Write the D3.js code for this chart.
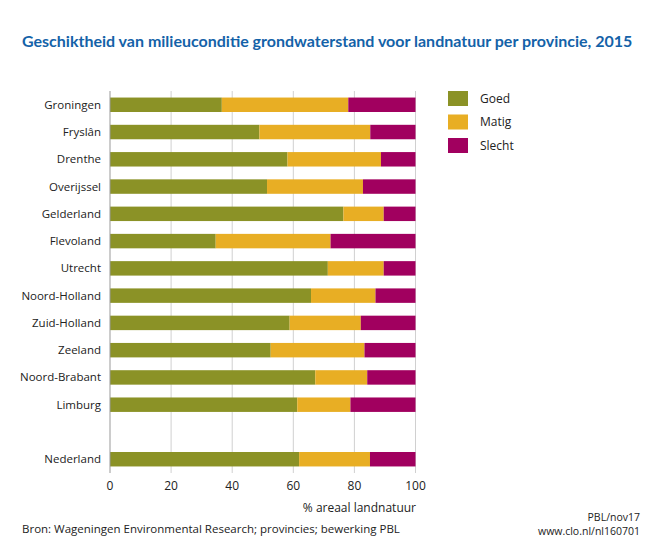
<!DOCTYPE html>
<html><head><meta charset="utf-8">
<script src="https://cdn.jsdelivr.net/npm/d3@7"></script>
<style>body{margin:0;background:#fff}svg{display:block}text{font-family:"Open Sans",sans-serif}</style>
</head><body><svg id="c" width="660" height="542"></svg>
<script>
const categories = ["Groningen","Fryslân","Drenthe","Overijssel","Gelderland","Flevoland","Utrecht","Noord-Holland","Zuid-Holland","Zeeland","Noord-Brabant","Limburg","","Nederland"];
const goed   = [36.6,48.9,58.1,51.4,76.4,34.6,71.3,65.8,58.8,52.6,67.2,61.3,null,61.9];
const matig  = [41.4,36.3,30.6,31.4,13.2,37.6,18.3,21.1,23.3,30.7,17.0,17.4,null,23.2];
const slecht = [22.0,14.8,11.3,17.2,10.4,27.8,10.4,13.1,17.9,16.7,15.8,21.3,null,14.9];
const seriesNames = ["Goed","Matig","Slecht"];
const colors = ["#8b9226","#e8ae24","#a1005f"];
const xTicks = [0,20,40,60,80,100];

const svg = d3.select("#c");
const x = d3.scaleLinear().domain([0,100]).range([110,415.5]);
const y = d3.scaleBand().domain(d3.range(categories.length)).range([91,473]).paddingInner(0.47).paddingOuter(0.24);

const title = svg.append("text").attr("x",22).attr("y",47).attr("fill","#1462a8").attr("font-weight","bold")
  .style("font-family","Lato, sans-serif").attr("font-size",16)
  .text("Geschiktheid van milieuconditie grondwaterstand voor landnatuur per provincie, 2015");
const tw = title.node().getComputedTextLength();
if (tw > 614) title.attr("font-size", 16*614/tw);

// grid
svg.append("g").selectAll("line").data(xTicks.filter(d=>d>0)).join("line")
  .attr("x1",d=>x(d)).attr("x2",d=>x(d)).attr("y1",91).attr("y2",473)
  .attr("stroke","#d0d0d0").attr("stroke-width",1);

const stackData = categories.map((c,i)=>({i, Goed:goed[i]||0, Matig:matig[i]||0, Slecht:slecht[i]||0}));
const stack = d3.stack().keys(seriesNames)(stackData);
svg.append("g").selectAll("g").data(stack).join("g").attr("fill",(d,k)=>colors[k])
  .selectAll("rect").data(d=>d.filter(p=>categories[p.data.i]!=="")).join("rect")
  .attr("x",d=>x(d[0])).attr("width",d=>x(d[1])-x(d[0]))
  .attr("y",d=>y(d.data.i)).attr("height",y.bandwidth());

// axis line
svg.append("line").attr("x1",110).attr("x2",110).attr("y1",91).attr("y2",473).attr("stroke","#999");

// category labels
svg.append("g").selectAll("text").data(categories.map((c,i)=>({c,i})).filter(d=>d.c!=="")).join("text")
  .attr("x",101).attr("y",d=>y(d.i)+y.bandwidth()/2).attr("dy","0.35em").attr("text-anchor","end")
  .attr("font-size",11.5).attr("fill","#222").text(d=>d.c);

// x tick labels
svg.append("g").selectAll("text").data(xTicks).join("text")
  .attr("x",d=>x(d)).attr("y",490).attr("text-anchor","middle").attr("font-size",12).attr("fill","#222").text(d=>d);

svg.append("text").attr("x",416).attr("y",512).attr("text-anchor","end").attr("font-size",12).attr("fill","#222").text("% areaal landnatuur");

// legend
const lg = svg.append("g").selectAll("g").data(seriesNames).join("g").attr("transform",(d,k)=>`translate(448,${91+k*23.5})`);
lg.append("rect").attr("width",20).attr("height",15).attr("fill",(d,k)=>colors[k]);
lg.append("text").attr("x",32).attr("y",7.5).attr("dy","0.35em").attr("font-size",12).attr("fill","#222").text(d=>d);

svg.append("text").attr("x",22).attr("y",533).attr("font-size",11.5).attr("fill","#222").text("Bron: Wageningen Environmental Research; provincies; bewerking PBL");
svg.append("text").attr("x",640).attr("y",521).attr("text-anchor","end").attr("font-size",10.5).attr("fill","#222").text("PBL/nov17");
svg.append("text").attr("x",640).attr("y",535).attr("text-anchor","end").attr("font-size",10.5).attr("fill","#222").text("www.clo.nl/nl160701");
</script></body></html>
